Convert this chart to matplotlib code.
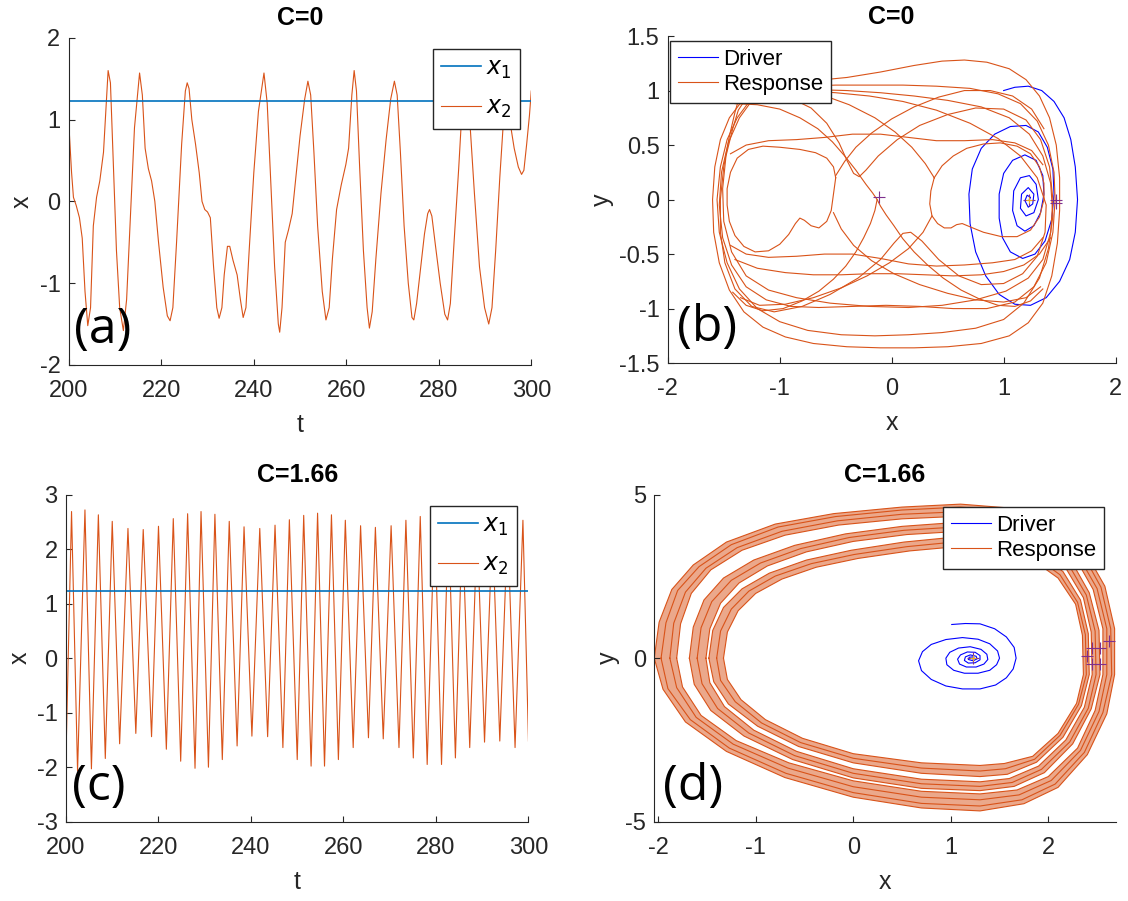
"""Driver/response synchronisation: time series and phase portraits."""
import matplotlib
matplotlib.use("Agg")
import matplotlib.pyplot as plt

plt.rcParams["font.family"] = ["Liberation Sans", "DejaVu Sans"]
plt.rcParams["axes.unicode_minus"] = False

BLUE = "#0072BD"
ORANGE = "#D95319"
DRIVER = "#0000FF"
PURPLE = "#7E2F8E"
YELLOW = "#EDB120"
AXIS = "#262626"

# ---- (a) C=0, time series ----
a_t = [200.0, 200.6, 201.0, 201.6, 202.3, 202.9, 203.5, 204.1, 204.7, 205.3,
       206.0, 206.7, 207.5, 208.0, 208.5, 209.0, 209.6, 210.3, 211.0, 211.8,
       212.5, 213.3, 214.2, 215.3, 215.9, 216.5, 217.2, 217.9, 218.6, 219.4,
       220.4, 221.3, 221.9, 222.5, 223.3, 224.4, 225.2, 225.6, 226.0, 226.6,
       227.4, 228.2, 228.8, 229.4, 230.0, 230.6, 231.3, 232.0, 232.5, 233.1,
       233.6, 234.3, 234.8, 235.5, 236.4, 237.1, 237.7, 238.3, 239.0, 240.0,
       241.0, 242.2, 242.9, 243.7, 244.5, 245.3, 245.6, 246.1, 246.8, 247.5,
       248.3, 249.1, 250.0, 251.0, 251.7, 252.3, 253.0, 253.8, 254.8, 255.6,
       256.3, 257.0, 257.9, 258.9, 259.9, 260.5, 261.2, 261.7, 262.2, 262.9,
       263.7, 264.5, 265.0, 265.6, 266.4, 267.5, 268.6, 269.6, 270.4, 271.0,
       271.7, 272.5, 273.4, 274.2, 274.6, 275.2, 276.0, 276.9, 277.6, 278.0,
       278.5, 279.3, 280.3, 281.3, 281.9, 282.5, 283.3, 284.3, 285.0, 285.6,
       286.1, 286.8, 287.7, 288.8, 289.9, 290.8, 291.5, 292.3, 293.2, 294.0,
       294.6, 295.1, 295.6, 296.3, 297.2, 297.9, 298.4, 299.0, 299.6, 300.0]
a_x2 = [0.95, 0.35, 0.05, -0.05, -0.2, -0.45, -1.1, -1.52, -1.3, -0.3,
        0.05, 0.25, 0.6, 1.1, 1.6, 1.45, 0.5, -0.6, -1.3, -1.58,
        -1.2, -0.2, 0.9, 1.57, 1.3, 0.65, 0.4, 0.25, 0.0, -0.5,
        -1.05, -1.4, -1.46, -1.3, -0.5, 0.7, 1.35, 1.45, 1.38, 1.0,
        0.7, 0.35, 0.0, -0.1, -0.13, -0.2, -0.8, -1.3, -1.43, -1.3,
        -0.9, -0.55, -0.55, -0.72, -0.9, -1.2, -1.42, -1.3, -0.6, 0.35,
        1.1, 1.57, 1.2, 0.2, -0.8, -1.5, -1.6, -1.3, -0.5, -0.35,
        -0.15, 0.3, 0.8, 1.25, 1.47, 1.3, 0.6, -0.3, -1.1, -1.45,
        -1.3, -0.7, -0.1, 0.2, 0.45, 0.65, 1.3, 1.6, 1.35, 0.4,
        -0.6, -1.3, -1.55, -1.35, -0.7, 0.1, 0.75, 1.25, 1.47, 1.3,
        0.6, -0.3, -1.0, -1.42, -1.45, -1.25, -0.85, -0.4, -0.15, -0.1,
        -0.18, -0.55, -1.0, -1.38, -1.45, -1.25, -0.5, 0.4, 1.1, 1.5,
        1.45, 0.9, 0.1, -0.8, -1.3, -1.5, -1.3, -0.6, 0.3, 1.0,
        1.45, 1.4, 0.9, 0.65, 0.42, 0.33, 0.38, 0.7, 1.05, 1.35]
x1_t = [200, 300]
x1_level = [1.23, 1.23]

# ---- (c) C=1.66, time series (extrema) ----
c_t = [200.0, 201.2, 202.5, 204.1, 205.5, 207.0, 208.5, 210.0, 211.6, 213.4,
       215.1, 216.7, 218.5, 220.0, 221.7, 223.2, 224.8, 226.3, 227.9, 229.2,
       230.8, 232.2, 233.8, 235.3, 237.0, 238.5, 240.2, 241.9, 243.6, 245.2,
       246.9, 248.3, 250.0, 251.4, 253.0, 254.4, 255.9, 257.4, 258.9, 260.4,
       262.1, 263.7, 265.4, 266.9, 268.6, 270.3, 272.0, 273.5, 275.1, 276.6,
       278.1, 279.7, 281.2, 282.7, 284.2, 285.7, 287.3, 288.9, 290.5, 292.2,
       293.8, 295.5, 297.1, 298.8, 300.0]
c_x2 = [-1.8, 2.69, -2.07, 2.72, -2.03, 2.63, -1.84, 2.51, -1.57, 2.38,
        -1.38, 2.36, -1.44, 2.42, -1.67, 2.56, -1.89, 2.65, -2.02, 2.69,
        -2.0, 2.64, -1.86, 2.51, -1.61, 2.41, -1.43, 2.38, -1.44, 2.44,
        -1.64, 2.54, -1.86, 2.62, -1.98, 2.66, -1.98, 2.63, -1.86, 2.53,
        -1.64, 2.43, -1.46, 2.40, -1.48, 2.43, -1.64, 2.53, -1.83, 2.60,
        -1.95, 2.65, -1.95, 2.6, -1.83, 2.5, -1.64, 2.42, -1.54, 2.42,
        -1.52, 2.45, -1.64, 2.53, -1.52]

# ---- (b) C=0, phase portrait: driver spiral and response pieces ----
b_driver = [(1.0, 1.0), (1.1, 1.03), (1.22, 1.04), (1.34, 1.0), (1.45, 0.9),
            (1.54, 0.75), (1.6, 0.55), (1.64, 0.3), (1.66, 0.0), (1.64, -0.3),
            (1.59, -0.55), (1.5, -0.75), (1.38, -0.9), (1.24, -0.97),
            (1.1, -0.96), (0.96, -0.87), (0.84, -0.7), (0.75, -0.48),
            (0.7, -0.22), (0.69, 0.05), (0.72, 0.28), (0.8, 0.47), (0.92, 0.6),
            (1.06, 0.67), (1.2, 0.68), (1.31, 0.62), (1.39, 0.48),
            (1.44, 0.28), (1.45, 0.05), (1.43, -0.18), (1.37, -0.38),
            (1.28, -0.5), (1.17, -0.54), (1.06, -0.48), (0.99, -0.35),
            (0.96, -0.17), (0.96, 0.05), (1.0, 0.24), (1.08, 0.36),
            (1.19, 0.41), (1.29, 0.36), (1.35, 0.22), (1.36, 0.05),
            (1.33, -0.12), (1.27, -0.24), (1.19, -0.29), (1.12, -0.24),
            (1.08, -0.1), (1.09, 0.08), (1.15, 0.2), (1.23, 0.22),
            (1.29, 0.14), (1.31, 0.0), (1.27, -0.12), (1.2, -0.15),
            (1.15, -0.08), (1.16, 0.05), (1.22, 0.11), (1.27, 0.05),
            (1.26, -0.04), (1.22, -0.07), (1.19, -0.01), (1.21, 0.04),
            (1.24, 0.02), (1.23, 0.0)]
b_loop_arch = [(-1.2, 1.0), (-1.0, 1.06), (-0.7, 1.09), (-0.4, 1.12),
               (-0.1, 1.17), (0.2, 1.23), (0.45, 1.27), (0.65, 1.28),
               (0.85, 1.26), (1.05, 1.2), (1.2, 1.1), (1.32, 0.95),
               (1.41, 0.75), (1.47, 0.5), (1.5, 0.2), (1.5, -0.1),
               (1.48, -0.4), (1.43, -0.7), (1.35, -0.95), (1.22, -1.13),
               (1.05, -1.25), (0.8, -1.32), (0.5, -1.35), (0.2, -1.36),
               (-0.1, -1.36), (-0.4, -1.35), (-0.7, -1.32), (-0.95, -1.26),
               (-1.15, -1.17), (-1.32, -1.03), (-1.45, -0.83), (-1.54, -0.58),
               (-1.59, -0.3), (-1.6, 0.0), (-1.58, 0.3), (-1.53, 0.55),
               (-1.45, 0.75), (-1.34, 0.9), (-1.2, 1.0)]
b_loop_flat = [(-1.1, 1.02), (-0.8, 1.04), (-0.5, 1.05), (-0.2, 1.05),
               (0.1, 1.05), (0.4, 1.04), (0.7, 1.02), (0.95, 0.97),
               (1.15, 0.88), (1.3, 0.72), (1.4, 0.5), (1.45, 0.25),
               (1.46, 0.0), (1.44, -0.3), (1.38, -0.58), (1.27, -0.8),
               (1.1, -0.94), (0.85, -1.0), (0.55, -1.0), (0.25, -0.98),
               (-0.05, -0.97), (-0.35, -0.98), (-0.65, -0.99), (-0.9, -0.98),
               (-1.12, -0.92), (-1.3, -0.8), (-1.43, -0.6), (-1.51, -0.35),
               (-1.54, -0.05), (-1.52, 0.25), (-1.46, 0.52), (-1.36, 0.75),
               (-1.24, 0.92), (-1.1, 1.02)]
b_loop_low = [(-1.25, 0.93), (-1.05, 0.99), (-0.75, 1.01), (-0.4, 1.0),
              (-0.1, 0.98), (0.2, 0.95), (0.5, 0.91), (0.8, 0.85),
              (1.05, 0.75), (1.23, 0.6), (1.35, 0.4), (1.42, 0.15),
              (1.44, -0.15), (1.4, -0.45), (1.32, -0.72), (1.18, -0.95),
              (1.0, -1.1), (0.75, -1.18), (0.45, -1.22), (0.15, -1.24),
              (-0.15, -1.25), (-0.45, -1.24), (-0.75, -1.2), (-1.0, -1.12),
              (-1.2, -1.0), (-1.36, -0.82), (-1.47, -0.58), (-1.54, -0.3),
              (-1.56, 0.0), (-1.53, 0.3), (-1.47, 0.55), (-1.38, 0.75),
              (-1.25, 0.93)]
b_loop_topdip = [(-1.3, 0.93), (-1.1, 0.96), (-0.9, 0.93), (-0.72, 0.84),
                 (-0.58, 0.7), (-0.47, 0.52), (-0.4, 0.36), (-0.34, 0.24),
                 (-0.29, 0.21), (-0.23, 0.27), (-0.12, 0.4), (0.05, 0.55),
                 (0.25, 0.68), (0.5, 0.78), (0.75, 0.84), (1.0, 0.83),
                 (1.2, 0.73), (1.33, 0.55), (1.41, 0.3), (1.44, 0.0),
                 (1.42, -0.3), (1.35, -0.55), (1.22, -0.72), (1.02, -0.84),
                 (0.75, -0.92), (0.45, -0.97), (0.15, -0.99), (-0.2, -0.98),
                 (-0.55, -0.95), (-0.85, -0.9), (-1.1, -0.83), (-1.3, -0.7),
                 (-1.43, -0.48), (-1.5, -0.2), (-1.51, 0.1), (-1.48, 0.4),
                 (-1.42, 0.65), (-1.37, 0.82), (-1.3, 0.93)]
b_loop_botdip = [(-1.35, 0.98), (-1.1, 1.01), (-0.8, 1.0), (-0.5, 0.98),
                 (-0.2, 0.95), (0.1, 0.9), (0.4, 0.82), (0.7, 0.7),
                 (0.95, 0.56), (1.15, 0.4), (1.3, 0.2), (1.38, -0.05),
                 (1.37, -0.3), (1.3, -0.52), (1.17, -0.68), (1.0, -0.77),
                 (0.8, -0.78), (0.6, -0.7), (0.42, -0.55), (0.27, -0.38),
                 (0.17, -0.3), (0.1, -0.31), (0.02, -0.4), (-0.1, -0.55),
                 (-0.3, -0.72), (-0.55, -0.87), (-0.8, -0.98), (-1.05, -1.03),
                 (-1.25, -0.98), (-1.4, -0.82), (-1.49, -0.58), (-1.53, -0.3),
                 (-1.53, 0.0), (-1.5, 0.3), (-1.45, 0.58), (-1.4, 0.8),
                 (-1.35, 0.98)]
b_lobe_left = [(-0.5, 0.2), (-0.52, 0.3), (-0.58, 0.38), (-0.68, 0.43),
               (-0.82, 0.46), (-1.0, 0.48), (-1.15, 0.49), (-1.28, 0.46),
               (-1.38, 0.38), (-1.44, 0.25), (-1.47, 0.1), (-1.47, -0.05),
               (-1.45, -0.2), (-1.4, -0.33), (-1.32, -0.43), (-1.22, -0.48),
               (-1.1, -0.47), (-1.0, -0.41), (-0.92, -0.32), (-0.86, -0.22),
               (-0.82, -0.17), (-0.78, -0.19), (-0.72, -0.24), (-0.65, -0.26),
               (-0.58, -0.2), (-0.54, -0.1), (-0.52, 0.05), (-0.5, 0.2)]
b_lobe_right = [(0.38, 0.2), (0.35, 0.08), (0.34, -0.04), (0.36, -0.15),
                (0.41, -0.22), (0.47, -0.26), (0.53, -0.26), (0.58, -0.23),
                (0.63, -0.22), (0.7, -0.25), (0.82, -0.3), (0.98, -0.34),
                (1.12, -0.34), (1.24, -0.28), (1.32, -0.16), (1.36, 0.0),
                (1.36, 0.15), (1.32, 0.3), (1.24, 0.42), (1.12, 0.49),
                (0.97, 0.52), (0.82, 0.51), (0.67, 0.47), (0.55, 0.4),
                (0.45, 0.31), (0.38, 0.2)]
b_cusp_left = [(-1.4, 0.88), (-1.2, 0.87), (-1.0, 0.83), (-0.82, 0.75),
               (-0.66, 0.65), (-0.53, 0.53), (-0.42, 0.4), (-0.32, 0.27),
               (-0.23, 0.14), (-0.17, 0.06), (-0.13, 0.0), (-0.15, -0.1),
               (-0.19, -0.22), (-0.25, -0.35), (-0.32, -0.48), (-0.41, -0.61),
               (-0.52, -0.73), (-0.65, -0.84), (-0.8, -0.93), (-0.97, -1.0),
               (-1.15, -1.02), (-1.3, -0.97), (-1.42, -0.85)]
b_cusp_right = [(-0.13, 0.0), (-0.1, -0.06), (-0.05, -0.14), (0.02, -0.24),
                (0.1, -0.36), (0.2, -0.48), (0.32, -0.6), (0.46, -0.72),
                (0.62, -0.83), (0.78, -0.91), (0.95, -0.97), (1.1, -0.98),
                (1.24, -0.93), (1.35, -0.82)]
b_cross_up1 = [(-0.5, 0.22), (-0.42, 0.35), (-0.32, 0.48), (-0.18, 0.61),
               (0.0, 0.74), (0.2, 0.85), (0.42, 0.94), (0.65, 1.0),
               (0.88, 1.0), (1.08, 0.95), (1.25, 0.83), (1.36, 0.65)]
b_cross_up2 = [(0.38, 0.2), (0.3, 0.33), (0.18, 0.48), (0.03, 0.62),
               (-0.15, 0.75), (-0.38, 0.87), (-0.62, 0.96), (-0.88, 1.02),
               (-1.12, 1.03), (-1.3, 0.97)]
b_cross_dn1 = [(-0.52, -0.12), (-0.45, -0.27), (-0.34, -0.42),
               (-0.18, -0.56), (0.02, -0.68), (0.25, -0.78), (0.5, -0.86),
               (0.75, -0.92), (1.0, -0.94), (1.2, -0.9), (1.33, -0.8)]
b_cross_dn2 = [(0.36, -0.15), (0.28, -0.3), (0.15, -0.45), (-0.02, -0.58),
               (-0.22, -0.7), (-0.45, -0.81), (-0.7, -0.9), (-0.95, -0.96),
               (-1.18, -0.97), (-1.35, -0.9)]
b_mid_up = [(-1.44, 0.42), (-1.3, 0.5), (-1.1, 0.54), (-0.85, 0.55),
            (-0.6, 0.57), (-0.35, 0.6), (-0.1, 0.6), (0.15, 0.57),
            (0.4, 0.54), (0.65, 0.54), (0.9, 0.55), (1.1, 0.52),
            (1.25, 0.45), (1.35, 0.32)]
b_mid_dn1 = [(-1.44, -0.42), (-1.3, -0.5), (-1.1, -0.53), (-0.85, -0.52),
             (-0.6, -0.5), (-0.35, -0.5), (-0.1, -0.54), (0.15, -0.59),
             (0.4, -0.61), (0.65, -0.6), (0.9, -0.58), (1.1, -0.55),
             (1.25, -0.47), (1.35, -0.35)]
b_mid_dn2 = [(-1.4, -0.55), (-1.2, -0.63), (-0.95, -0.67), (-0.7, -0.69),
             (-0.45, -0.69), (-0.2, -0.68), (0.05, -0.68), (0.3, -0.69),
             (0.55, -0.7), (0.8, -0.69), (1.0, -0.66), (1.18, -0.6),
             (1.32, -0.5), (1.42, -0.35)]
b_response = [b_loop_arch, b_loop_flat, b_loop_low, b_loop_topdip,
              b_loop_botdip, b_lobe_left, b_lobe_right, b_cusp_left,
              b_cusp_right, b_cross_up1, b_cross_up2, b_cross_dn1,
              b_cross_dn2, b_mid_up, b_mid_dn1, b_mid_dn2]
b_plus_x = [-0.11, 1.47, 1.47, 1.23]
b_plus_y = [0.02, 0.0, -0.03, 0.0]

# ---- (d) C=1.66, phase portrait ----
d_driver = [(1.01, 1.03), (1.15, 1.06), (1.3, 1.05), (1.45, 0.9),
            (1.57, 0.65), (1.65, 0.33), (1.67, 0.0), (1.64, -0.33),
            (1.57, -0.6), (1.46, -0.82), (1.3, -0.94), (1.12, -0.94),
            (0.95, -0.85), (0.8, -0.65), (0.7, -0.38), (0.67, -0.08),
            (0.71, 0.2), (0.8, 0.42), (0.95, 0.57), (1.12, 0.63),
            (1.28, 0.58), (1.4, 0.44), (1.48, 0.22), (1.5, 0.0),
            (1.47, -0.2), (1.4, -0.37), (1.28, -0.46), (1.14, -0.46),
            (1.03, -0.37), (0.96, -0.2), (0.95, 0.0), (0.99, 0.18),
            (1.08, 0.31), (1.2, 0.35), (1.31, 0.27), (1.37, 0.12),
            (1.38, -0.04), (1.34, -0.18), (1.26, -0.27), (1.16, -0.27),
            (1.09, -0.18), (1.07, -0.03), (1.1, 0.1), (1.17, 0.19),
            (1.25, 0.18), (1.3, 0.08), (1.3, -0.05), (1.25, -0.14),
            (1.18, -0.15), (1.14, -0.07), (1.15, 0.04), (1.2, 0.1),
            (1.26, 0.06), (1.27, -0.02), (1.23, -0.08), (1.18, -0.04),
            (1.19, 0.03), (1.23, 0.04), (1.24, 0.0), (1.22, -0.02),
            (1.23, 0.0)]
# response loops, three bands (outer, middle, inner), outer edge first
d_resp_x = [
    [-2.04, -1.99, -1.86, -1.64, -1.30, -0.80, -0.20, 0.50, 1.10, 1.65, 2.05,
     2.38, 2.58, 2.68, 2.68, 2.60, 2.40, 2.10, 1.75, 1.30, 0.70, 0.00, -0.70,
     -1.30, -1.72, -1.95, -2.04],
    [-1.97, -1.92, -1.80, -1.58, -1.25, -0.77, -0.18, 0.50, 1.10, 1.63, 2.02,
     2.35, 2.54, 2.64, 2.65, 2.56, 2.37, 2.07, 1.73, 1.30, 0.70, 0.00, -0.69,
     -1.27, -1.67, -1.90, -1.97],
    [-1.88, -1.84, -1.72, -1.51, -1.19, -0.73, -0.16, 0.50, 1.10, 1.60, 1.98,
     2.31, 2.50, 2.60, 2.60, 2.52, 2.33, 2.03, 1.70, 1.30, 0.70, 0.00, -0.67,
     -1.23, -1.61, -1.81, -1.88],
    [-1.81, -1.77, -1.66, -1.46, -1.14, -0.70, -0.15, 0.50, 1.10, 1.58, 1.95,
     2.28, 2.46, 2.56, 2.56, 2.48, 2.30, 2.00, 1.68, 1.30, 0.70, 0.00, -0.66,
     -1.20, -1.56, -1.75, -1.81],
    [-1.68, -1.64, -1.53, -1.33, -1.02, -0.60, -0.08, 0.50, 1.10, 1.55, 1.92,
     2.24, 2.42, 2.52, 2.53, 2.44, 2.25, 1.96, 1.65, 1.30, 0.70, 0.00, -0.62,
     -1.12, -1.46, -1.63, -1.68],
    [-1.60, -1.56, -1.45, -1.25, -0.95, -0.54, -0.04, 0.52, 1.10, 1.54, 1.90,
     2.21, 2.39, 2.48, 2.49, 2.41, 2.22, 1.93, 1.63, 1.30, 0.70, 0.00, -0.60,
     -1.07, -1.39, -1.55, -1.60],
    [-1.51, -1.47, -1.36, -1.17, -0.88, -0.48, 0.00, 0.55, 1.10, 1.52, 1.88,
     2.18, 2.36, 2.44, 2.45, 2.37, 2.18, 1.90, 1.60, 1.30, 0.70, 0.00, -0.58,
     -1.02, -1.32, -1.47, -1.51],
    [-1.48, -1.44, -1.33, -1.14, -0.86, -0.48, -0.02, 0.52, 1.10, 1.50, 1.85,
     2.15, 2.33, 2.41, 2.42, 2.34, 2.15, 1.88, 1.58, 1.30, 0.70, 0.00, -0.56,
     -0.98, -1.28, -1.43, -1.48],
    [-1.40, -1.36, -1.25, -1.07, -0.80, -0.43, 0.01, 0.55, 1.10, 1.49, 1.83,
     2.12, 2.30, 2.38, 2.39, 2.31, 2.12, 1.86, 1.56, 1.30, 0.70, 0.00, -0.54,
     -0.94, -1.21, -1.36, -1.40],
    [-1.33, -1.29, -1.18, -1.00, -0.73, -0.38, 0.05, 0.58, 1.10, 1.48, 1.82,
     2.10, 2.28, 2.35, 2.36, 2.29, 2.10, 1.84, 1.55, 1.30, 0.70, 0.00, -0.52,
     -0.90, -1.15, -1.29, -1.33],
]
d_resp_y = [
    [0.0, 1.10, 2.10, 2.85, 3.55, 4.10, 4.42, 4.62, 4.71, 4.58, 4.15, 3.25,
     2.20, 0.90, -0.50, -1.70, -2.95, -3.95, -4.45, -4.67, -4.58, -4.25,
     -3.65, -2.85, -1.95, -0.95, 0.0],
    [0.0, 1.08, 2.07, 2.80, 3.47, 4.01, 4.33, 4.53, 4.62, 4.49, 4.08, 3.20,
     2.17, 0.90, -0.50, -1.66, -2.88, -3.85, -4.33, -4.52, -4.44, -4.11,
     -3.52, -2.75, -1.88, -0.93, 0.0],
    [0.0, 1.07, 2.02, 2.75, 3.38, 3.88, 4.20, 4.40, 4.48, 4.36, 3.96, 3.12,
     2.13, 0.90, -0.50, -1.63, -2.82, -3.74, -4.18, -4.33, -4.25, -3.93,
     -3.36, -2.63, -1.81, -0.90, 0.0],
    [0.0, 1.05, 1.98, 2.70, 3.30, 3.76, 4.07, 4.26, 4.34, 4.22, 3.85, 3.05,
     2.10, 0.90, -0.50, -1.60, -2.75, -3.62, -4.03, -4.15, -4.07, -3.75,
     -3.20, -2.52, -1.75, -0.88, 0.0],
    [0.0, 0.95, 1.78, 2.45, 3.00, 3.45, 3.80, 4.03, 4.16, 4.08, 3.72, 2.95,
     2.00, 0.85, -0.50, -1.55, -2.62, -3.50, -3.92, -4.05, -3.98, -3.66,
     -3.10, -2.38, -1.60, -0.80, 0.0],
    [0.0, 0.93, 1.73, 2.38, 2.91, 3.35, 3.69, 3.91, 4.02, 3.94, 3.58, 2.85,
     1.93, 0.83, -0.50, -1.53, -2.56, -3.40, -3.80, -3.92, -3.84, -3.52,
     -2.98, -2.29, -1.54, -0.78, 0.0],
    [0.0, 0.90, 1.68, 2.30, 2.82, 3.25, 3.57, 3.78, 3.88, 3.80, 3.45, 2.75,
     1.85, 0.80, -0.50, -1.50, -2.50, -3.30, -3.68, -3.78, -3.70, -3.38,
     -2.85, -2.20, -1.48, -0.75, 0.0],
    [0.0, 0.85, 1.55, 2.12, 2.60, 3.00, 3.30, 3.55, 3.72, 3.66, 3.32, 2.65,
     1.78, 0.75, -0.50, -1.45, -2.42, -3.18, -3.55, -3.62, -3.52, -3.20,
     -2.70, -2.08, -1.40, -0.72, 0.0],
    [0.0, 0.83, 1.50, 2.05, 2.51, 2.89, 3.17, 3.41, 3.57, 3.51, 3.18, 2.55,
     1.71, 0.72, -0.50, -1.41, -2.36, -3.09, -3.38, -3.45, -3.36, -3.06,
     -2.58, -1.98, -1.33, -0.68, 0.0],
    [0.0, 0.80, 1.45, 1.98, 2.42, 2.78, 3.05, 3.28, 3.42, 3.36, 3.05, 2.45,
     1.65, 0.70, -0.50, -1.38, -2.30, -3.00, -3.22, -3.28, -3.20, -2.92,
     -2.45, -1.88, -1.27, -0.65, 0.0],
]
d_bands = [(0, 3), (4, 6), (7, 9)]  # (outer edge loop, inner edge loop)
d_plus_x = [2.40, 2.45, 2.53, 2.62, 2.45, 2.53, 1.23]
d_plus_y = [0.06, 0.32, 0.32, 0.52, -0.19, -0.19, 0.0]

TICK_FS = 17
LABEL_FS = 18
TITLE_FS = 18


def style_axes(ax, title, xlabel, ylabel, tag, tag_xy):
    """Matlab-like axes: left/bottom box, inward ticks."""
    for side in ("top", "right"):
        ax.spines[side].set_visible(False)
    for side in ("left", "bottom"):
        ax.spines[side].set_color(AXIS)
        ax.spines[side].set_linewidth(0.8)
    ax.tick_params(direction="in", length=4, width=0.8, colors=AXIS,
                   labelsize=TICK_FS, pad=6)
    ax.tick_params(axis="x", pad=11)
    ax.set_title(title, fontsize=TITLE_FS, fontweight="bold", pad=9)
    ax.set_xlabel(xlabel, fontsize=LABEL_FS, color=AXIS, labelpad=8)
    ax.set_ylabel(ylabel, fontsize=LABEL_FS, color=AXIS, labelpad=4)
    ax.text(tag_xy[0], tag_xy[1], tag, transform=ax.transAxes,
            fontsize=36, family="Open Sans", ha="left", va="bottom")


def legend(ax, handles, loc, anchor, spacing, fs, hlen):
    ax.legend(handles=handles, loc=loc, bbox_to_anchor=anchor,
              borderaxespad=0, fontsize=fs, handlelength=hlen,
              fancybox=False, edgecolor=AXIS, framealpha=1,
              borderpad=0.35, labelspacing=spacing, handletextpad=0.2)


def plot_series(ax, t, x2, ylim, yticks, title, tag):
    h2, = ax.plot(t, x2, color=ORANGE, lw=0.8, label="$x_2$")
    h1, = ax.plot(x1_t, x1_level, color=BLUE, lw=1.2, label="$x_1$")
    ax.set_xlim(200, 300)
    ax.set_ylim(*ylim)
    ax.set_xticks(range(200, 301, 20))
    ax.set_yticks(yticks)
    style_axes(ax, title, "t", "x", tag, (0.012, 0.03))
    legend(ax, [h1, h2], "upper right", (0.975, 0.965), 0.7, 17, 1.7)


def plot_phase(ax, driver, response, plus_x, plus_y, xlim, ylim, yticks,
               title, tag, leg_loc, leg_anchor, bands=None):
    if bands:
        # shade between the edge loops so each band reads as a dense bundle
        for outer, inner in bands:
            xs = [p[0] for p in response[outer]] + \
                 [p[0] for p in response[inner]][::-1]
            ys = [p[1] for p in response[outer]] + \
                 [p[1] for p in response[inner]][::-1]
            ax.fill(xs, ys, color=ORANGE, alpha=0.5, lw=0)
    hd, = ax.plot([p[0] for p in driver], [p[1] for p in driver],
                  color=DRIVER, lw=0.8, label="Driver")
    for piece in response:
        hr, = ax.plot([p[0] for p in piece], [p[1] for p in piece],
                      color=ORANGE, lw=0.8, label="Response")
    ax.plot(plus_x, plus_y, ls="none", marker="+", ms=8, mew=0.8,
            color=PURPLE)
    ax.plot(plus_x[-1:], plus_y[-1:], ls="none", marker="+", ms=5,
            mew=0.8, color=YELLOW)
    ax.set_xlim(*xlim)
    ax.set_ylim(*ylim)
    ax.set_xticks(range(-2, 3))
    ax.set_yticks(yticks)
    ax.set_yticklabels([f"{v:g}" for v in yticks])
    style_axes(ax, title, "x", "y", tag, (0.02, 0.03))
    legend(ax, [hd, hr], leg_loc, leg_anchor, 0.2, 16, 1.8)


fig = plt.figure(figsize=(11.28, 9.01), dpi=100)
ax_a = fig.add_axes([0.061, 0.595, 0.41, 0.363])
ax_b = fig.add_axes([0.592, 0.597, 0.397, 0.363])
ax_c = fig.add_axes([0.0585, 0.088, 0.41, 0.363])
ax_d = fig.add_axes([0.580, 0.088, 0.409, 0.363])

plot_series(ax_a, a_t, a_x2, (-2, 2), [-2, -1, 0, 1, 2], "C=0", "(a)")
plot_series(ax_c, c_t, c_x2, (-3, 3), [-3, -2, -1, 0, 1, 2, 3], "C=1.66",
            "(c)")
plot_phase(ax_b, b_driver, b_response, b_plus_x, b_plus_y,
           (-2, 2), (-1.5, 1.5), [-1.5, -1, -0.5, 0, 0.5, 1, 1.5], "C=0",
           "(b)", "upper left", (0.006, 0.985))

d_response = [list(zip(xs, ys)) for xs, ys in zip(d_resp_x, d_resp_y)]
plot_phase(ax_d, d_driver, d_response, d_plus_x, d_plus_y,
           (-2.04, 2.69), (-5, 5), [-5, 0, 5], "C=1.66", "(d)",
           "upper right", (0.974, 0.963), bands=d_bands)

fig.savefig("out.png", dpi=100)
